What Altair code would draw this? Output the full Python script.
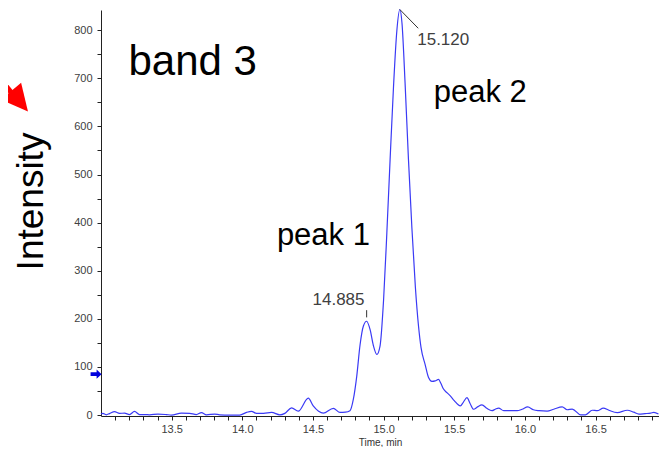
import altair as alt
import pandas as pd

# ---- trace data (time in min, intensity) ----
times = [13.00, 13.013, 13.037, 13.06, 13.096, 13.131, 13.167, 13.202, 13.237, 13.273,
         13.31, 13.344, 13.403, 13.462, 13.498, 13.569, 13.628, 13.675, 13.711, 13.746,
         13.805, 13.840, 13.911, 13.982, 14.030, 14.065, 14.101, 14.15, 14.207, 14.266,
         14.301, 14.349, 14.396, 14.467, 14.502, 14.54, 14.573, 14.644, 14.691, 14.73,
         14.762, 14.786, 14.810, 14.833, 14.857, 14.88, 14.904, 14.928, 14.952, 14.975,
         15.000, 15.023, 15.046, 15.070, 15.094, 15.115, 15.13, 15.152, 15.176, 15.200,
         15.225, 15.247, 15.265, 15.294, 15.318, 15.342, 15.365, 15.389, 15.405, 15.424,
         15.45, 15.472, 15.50, 15.543, 15.565, 15.590, 15.612, 15.637, 15.665, 15.696,
         15.73, 15.767, 15.79, 15.814, 15.850, 15.9, 15.945, 15.98, 16.020, 16.06,
         16.100, 16.157, 16.204, 16.264, 16.299, 16.335, 16.394, 16.429, 16.477, 16.512,
         16.555, 16.594, 16.654, 16.725, 16.77, 16.807, 16.85, 16.890, 16.913, 16.945]
intensity = [2, 3.5, 0.5, 3, 7, 3.5, 4, 1, 7.5, 1,
             1, 0.5, 2, 1, 0, 4, 3.5, 1, 5, 0.5,
             2, 0.5, 0, 0, 5.5, 7.5, 3.5, 3.5, 5.5, 0.5,
             3.5, 15, 8, 35, 19, 8, 4, 14, 5.5, 6,
             9, 33, 81, 145, 185, 195, 178, 144, 126, 144,
             240, 379, 531, 682, 800, 843, 815, 690, 531, 390,
             265, 185, 140, 105, 78, 70, 71, 74, 66, 54,
             46, 40, 30, 19, 27, 36, 24, 12, 17, 21,
             14, 9, 12, 14.5, 9, 9, 9, 12, 17, 11,
             9, 8, 12, 17, 11, 12.5, 0.5, 0.5, 10, 9,
             14.5, 10, 5, 10, 6, 2, 3, 4, 5.5, 2]

# ---- axis ticks ----
x_ticks = [round(13.1 + 0.1 * i, 1) for i in range(39)]
y_ticks = list(range(0, 801, 50))

# ---- annotations ----
big_text = ["band 3", "peak 2", "peak 1"]
big_time = [13.649, 15.684, 14.574]
big_int = [707, 651, 354]
big_size = [42, 31, 31]

peak_text = ["15.120", "14.885"]
peak_time = [15.422, 14.681]
peak_int = [769, 228]

lead_t1 = [15.115, 14.88]
lead_v1 = [843, 203]
lead_t2 = [15.245, 14.88]
lead_v2 = [804, 218]

# red arrow (outside plot, left)
red_shaft_t = [12.250, 12.38]
red_shaft_v = [712, 665]
red_head_t = [12.423]
red_head_v = [652]

# blue marker on y axis
marker_t = [12.965]
marker_v = [85]

FONT = "Liberation Sans"
xs = alt.Scale(domain=[13.0, 16.949], nice=False, zero=False)
ys = alt.Scale(domain=[-2, 842], nice=False, zero=False)

X_AX = alt.Axis(
    values=x_ticks,
    labelExpr="(round(datum.value*10) % 5 == 0) ? format(datum.value, '.1f') : ''",
    title="Time, min", grid=False, tickSize=4, labelFontSize=11, labelColor="#404040",
    labelFont=FONT, titleFont=FONT, titleFontSize=10, titleFontWeight="normal",
    titleColor="#333333", domainColor="#222222", tickColor="#222222",
    labelPadding=3, titlePadding=3, labelFlush=False)
Y_AX = alt.Axis(
    values=y_ticks,
    labelExpr="(datum.value % 100 == 0) ? format(datum.value, 'd') : ''",
    title="Intensity", grid=False, tickSize=4, labelFontSize=11, labelColor="#404040",
    labelFont=FONT, titleFont=FONT, titleFontSize=37, titleFontWeight="normal",
    titleColor="#000000", titleAngle=270, titleX=-59, titleY=191,
    titleAlign="center", titleBaseline="alphabetic",
    domainColor="#222222", tickColor="#222222", labelPadding=5, labelFlush=False)


def X(field):
    return alt.X(field, type="quantitative", scale=xs, axis=X_AX)


def Y(field):
    return alt.Y(field, type="quantitative", scale=ys, axis=Y_AX)


trace = pd.DataFrame({"time": times, "intensity": intensity})

line = alt.Chart(trace).mark_line(color="#3a3af5", strokeWidth=1.2, interpolate="monotone").encode(
    x=X("time"), y=Y("intensity"),
)

big_df = pd.DataFrame({"time": big_time, "intensity": big_int, "label": big_text, "fs": big_size})
big = alt.Chart(big_df).mark_text(font=FONT, color="#000000", align="center", baseline="alphabetic").encode(
    x=X("time"), y=Y("intensity"),
    text="label:N",
    size=alt.Size("fs:Q", scale=None, legend=None),
)

pk_df = pd.DataFrame({"time": peak_time, "intensity": peak_int, "label": peak_text})
pk = alt.Chart(pk_df).mark_text(font=FONT, fontSize=17, color="#404040", align="center",
                                baseline="alphabetic").encode(
    x=X("time"), y=Y("intensity"),
    text="label:N",
)

lead_df = pd.DataFrame({"time": lead_t1, "intensity": lead_v1, "t2": lead_t2, "v2": lead_v2})
lead = alt.Chart(lead_df).mark_rule(color="#333333", strokeWidth=1).encode(
    x=X("time"), y=Y("intensity"), x2="t2:Q", y2="v2:Q",
)

shaft_df = pd.DataFrame({"time": [red_shaft_t[0]], "intensity": [red_shaft_v[0]],
                         "t2": [red_shaft_t[1]], "v2": [red_shaft_v[1]]})
shaft = alt.Chart(shaft_df).mark_rule(color="#ff0000", strokeWidth=5).encode(
    x=X("time"), y=Y("intensity"), x2="t2:Q", y2="v2:Q",
)

head_df = pd.DataFrame({"time": red_head_t, "intensity": red_head_v})
head = alt.Chart(head_df).mark_point(shape="M1,0L-1,-1L-1,1Z", filled=True, opacity=1,
                                     color="#ff0000", size=700, angle=50).encode(
    x=X("time"), y=Y("intensity"),
)

mk_df = pd.DataFrame({"time": marker_t, "intensity": marker_v})
marker = alt.Chart(mk_df).mark_point(
    shape="M-1,-0.35L0.1,-0.35L0.1,-0.85L1,0L0.1,0.85L0.1,0.35L-1,0.35Z",
    filled=True, opacity=1, color="#0000dd", size=120).encode(
    x=X("time"), y=Y("intensity"),
)

chart = alt.layer(line, lead, pk, big, shaft, head, marker).properties(
    width=558, height=406,
    padding={"left": 93, "top": 2, "right": 0, "bottom": 31},
    autosize="none",
).configure(font=FONT).configure_view(stroke=None)

chart.save("out.html", embed_options={"renderer": "svg", "actions": False})
